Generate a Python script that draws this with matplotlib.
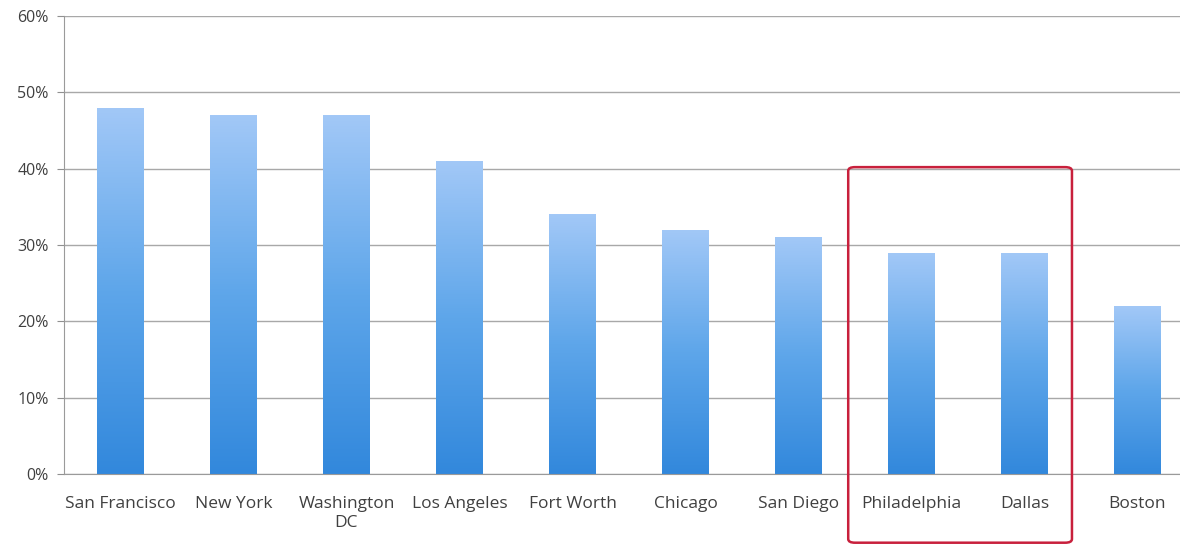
import numpy as np
import matplotlib
matplotlib.use("Agg")
import matplotlib.pyplot as plt
from matplotlib.patches import FancyBboxPatch
from matplotlib.colors import LinearSegmentedColormap
from matplotlib.ticker import FuncFormatter

cities = ["San Francisco", "New York", "Washington\nDC", "Los Angeles", "Fort Worth",
          "Chicago", "San Diego", "Philadelphia", "Dallas", "Boston"]
share = [48, 47, 47, 41, 34, 32, 31, 29, 29, 22]
highlighted = ["Philadelphia", "Dallas"]

plt.rcParams['font.family'] = ['Open Sans', 'DejaVu Sans']

fig = plt.figure(figsize=(11.8, 5.46), dpi=100)
# axes run slightly past the right edge so the last column is cut off
ax = fig.add_axes([64 / 1180, 1 - 474 / 546, 1130 / 1180, 458 / 546])

x = np.arange(len(cities))
width = 0.41
bars = ax.bar(x, share, width=width, color="none", zorder=2)

grad = LinearSegmentedColormap.from_list("bar", ["#3288dc", "#5ea6ea", "#a2c8f7"])
g = np.linspace(0, 1, 256).reshape(-1, 1)
for b in bars:
    bx, by = b.get_x(), b.get_y()
    w, h = b.get_width(), b.get_height()
    im = ax.imshow(g, cmap=grad, origin="lower", aspect="auto",
                   extent=[bx, bx + w, by, by + h], zorder=2)
    im.set_clip_path(b)

ax.set_xlim(-0.5, len(cities) - 0.5)
ax.set_ylim(0, 60)
ax.set_yticks(range(0, 61, 10))
ax.yaxis.set_major_formatter(FuncFormatter(lambda v, _: f"{v:.0f}%"))
ax.set_xticks(x)
ax.set_xticklabels(cities, fontsize=12.5, color="#404040", linespacing=1.25)
ax.tick_params(axis="x", length=0, pad=16)
ax.tick_params(axis="y", length=5, color="#909090", labelsize=11.5,
               labelcolor="#404040", pad=6)

ax.grid(axis="y", color="#a8a8a8", linewidth=1.0, zorder=1)
ax.set_axisbelow(True)
for side in ["top", "right"]:
    ax.spines[side].set_visible(False)
ax.spines["left"].set_color("#9a9a9a")
ax.spines["bottom"].set_color("#9a9a9a")

# frame around the highlighted cities
i0 = cities.index(highlighted[0])
i1 = cities.index(highlighted[1])
box = FancyBboxPatch((i0 - 0.56, -9.0), (i1 - i0) + 0.98, 49.2,
                     boxstyle="round,pad=0,rounding_size=0.06",
                     mutation_aspect=8, fill=False, edgecolor="#c8203c",
                     linewidth=1.8, clip_on=False, zorder=5)
ax.add_patch(box)

fig.savefig("out.png", dpi=100)
